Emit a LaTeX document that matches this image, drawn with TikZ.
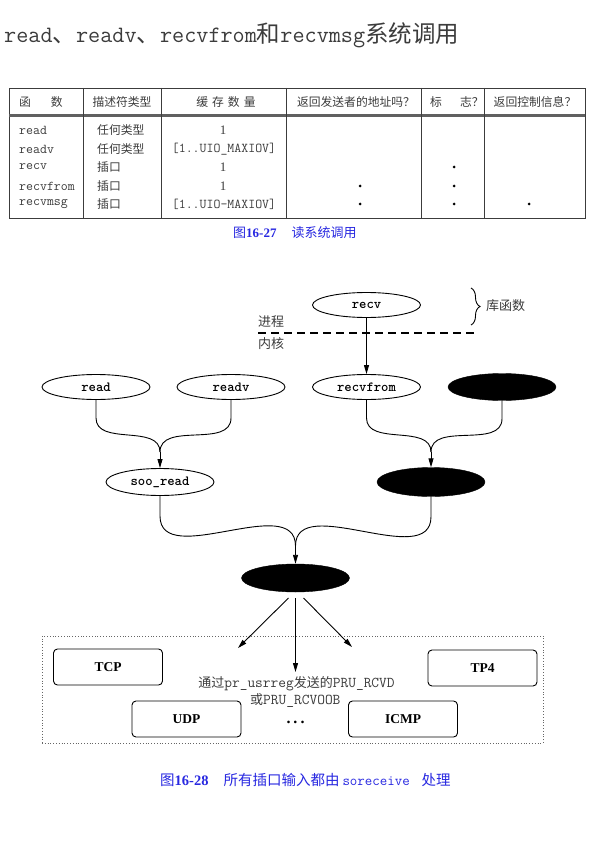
\documentclass[tikz,border=0pt]{standalone}
\usepackage{fontspec}
\setmainfont{Liberation Serif}
\newfontfamily\cjk{Noto Sans CJK SC}
\usetikzlibrary{arrows.meta,decorations.pathreplacing,shapes.geometric}
\definecolor{capblue}{RGB}{40,40,225}
\definecolor{tgray}{RGB}{60,60,60}
\newcommand{\fs}[1]{\fontsize{#1}{#1}\selectfont}
\begin{document}
\begin{tikzpicture}[x=1pt,y=-1pt,
  ell/.style={ellipse,draw,line width=0.9pt,minimum width=108pt,minimum height=25pt,inner sep=0pt,font=\ttfamily\bfseries\fs{14}},
  blk/.style={ellipse,draw,fill=black,minimum width=108pt,minimum height=28pt,inner sep=0pt},
  proto/.style={draw,rounded corners=4pt,line width=0.9pt,minimum width=109pt,minimum height=36pt,inner sep=0pt,font=\bfseries\fs{13.5}},
  arr/.style={-{Triangle[length=9pt,width=5pt]},line width=0.9pt},
  con/.style={line width=0.9pt},
  tline/.style={line width=0.8pt,tgray},
  hd/.style={inner sep=0pt,font=\cjk\fs{11.8},text=tgray},
  fn/.style={anchor=west,inner sep=0pt,font=\ttfamily\fs{13.5},text=tgray},
  ty/.style={anchor=west,inner sep=0pt,font=\cjk\fs{11.8},text=tgray},
  cnt/.style={inner sep=0pt,text=tgray},
  dotm/.style={circle,fill=black,inner sep=0pt,minimum size=3pt},
  lab/.style={anchor=west,inner sep=0pt,font=\cjk\fs{13},text=tgray},
  captxt/.style={anchor=west,inner sep=0pt,text=capblue}
]
\useasboundingbox (0,0) rectangle (595,842);
\fill[white] (0,0) rectangle (595,842);

% title
\node[anchor=west,inner sep=0pt,font=\fs{23.5},text=tgray] (title) at (4,35)
  {\ttfamily read{\cjk 、}readv{\cjk 、}recvfrom{\cjk 和}recvmsg{\cjk 系统调用}};

% table frame
\draw[tline] (9,88) rectangle (585,218);
\draw[line width=3pt,gray!75!black] (9,115.5) -- (585,115.5);
\foreach \cx in {83,161,286,421,484}
  \draw[tline] (\cx,88) -- (\cx,218);

% header
\node[hd,anchor=west] (h1) at (19,102) {函\hspace{20pt}数};
\node[hd] (h2) at (122,102) {描述符类型};
\node[hd] (h3) at (226,102) {缓\hspace{4pt}存\hspace{4pt}数\hspace{4pt}量};
\node[hd] (h4) at (356,102) {返回发送者的地址吗？};
\node[hd,anchor=west] (h5) at (430,102) {标\hspace{18pt}志？};
\node[hd] (h6) at (535,102) {返回控制信息？};

% rows
\node[fn] (f1) at (19,130) {read};
\node[fn] (f2) at (19,149) {readv};
\node[fn] (f3) at (19,167) {recv};
\node[fn] (f4) at (19,186) {recvfrom};
\node[fn] (f5) at (19,204) {recvmsg};
\node[ty] (t1) at (97,130) {任何类型};
\node[ty] (t2) at (97,149) {任何类型};
\node[ty] (t3) at (97,167) {插口};
\node[ty] (t4) at (97,186) {插口};
\node[ty] (t5) at (97,204) {插口};
\node[cnt,font=\fs{13}] (c1) at (223,130) {1};
\node[cnt,font=\ttfamily\fs{13.5}] (c2) at (224,149) {[1..UIO\_MAXIOV]};
\node[cnt,font=\fs{13}] (c3) at (223,167) {1};
\node[cnt,font=\fs{13}] (c4) at (223,186) {1};
\node[cnt,font=\ttfamily\fs{13.5}] (c5) at (224,204) {[1..UIO-MAXIOV]};
\node[dotm] (d1) at (360,186) {};
\node[dotm] (d2) at (360,204) {};
\node[dotm] (d3) at (454,167) {};
\node[dotm] (d4) at (454,186) {};
\node[dotm] (d5) at (454,204) {};
\node[dotm] (d6) at (529,204) {};

% caption 1
\node[captxt] (cap1) at (233,233) {{\cjk\fs{13}图}{\bfseries\fs{13}16-27}\hspace{15pt}{\cjk\fs{13}读系统调用}};

% diagram: top
\node[ell] (recv) at (366.5,305) {recv};
\coordinate (bt) at (471,288);
\coordinate (bb) at (471,325);
\draw[decorate,decoration={brace,amplitude=9pt},line width=0.9pt] (bt) -- (bb);
\node[lab] (lib) at (486,306) {库函数};
\coordinate (dl) at (258,333);
\coordinate (dr) at (476,333);
\draw[dash pattern=on 8pt off 5pt,line width=1.1pt] (dl) -- (dr);
\node[lab] (proc) at (258,322) {进程};
\node[lab] (kern) at (258,344) {内核};

% ellipses row
\node[ell] (read) at (96,387) {read};
\node[ell] (readv) at (231,387) {readv};
\node[ell] (recvfrom) at (366.5,387) {recvfrom};
\node[blk,minimum height=27pt] (b1) at (502,387) {};
\draw[arr] (recv.south) -- (recvfrom.north);

\node[ell,minimum height=27pt] (sooread) at (160,482) {soo\_read};
\node[blk,minimum height=29pt] (b2) at (431,482) {};

\coordinate (m1) at (160,452);
\coordinate (m2) at (431,452);
\draw[con] (read.south) -- ++(0,18) to[out=-90,in=90] (m1);
\draw[con] (readv.south) -- ++(0,18) to[out=-90,in=90] (m1);
\draw[arr] (m1) -- (sooread.north);
\draw[con] (recvfrom.south) -- ++(0,18) to[out=-90,in=90] (m2);
\draw[con] (b1.south) -- ++(0,18) to[out=-90,in=90] (m2);
\draw[arr] (m2) -- (b2.north);

\node[blk] (b3) at (295.5,578) {};
\coordinate (m3) at (295.5,546);
\draw[con] (sooread.south) -- ++(0,20) to[out=-90,in=90] (m3);
\draw[con] (b2.south) -- ++(0,20) to[out=-90,in=90] (m3);
\draw[arr] (m3) -- (b3.north);

% bottom area
\node[draw,dotted,line width=0.8pt,gray!80!black,minimum width=501pt,minimum height=107pt,inner sep=0pt] (area) at (292.5,689.5) {};
\coordinate (la) at (238,648);
\coordinate (ma) at (295.5,672);
\coordinate (ra) at (352,647);
\draw[arr] (b3) ++(-7,20) -- (la);
\draw[arr] (b3.south) ++(0,6) -- (ma);
\draw[arr] (b3) ++(8,20) -- (ra);

\node[proto] (tcp) at (108,667) {TCP};
\node[proto] (tp4) at (482.5,668) {TP4};
\node[proto] (udp) at (186.5,719) {UDP};
\node[proto] (icmp) at (403,719) {ICMP};

\node[inner sep=0pt,text=tgray] (msg1) at (296.5,684)
  {{\cjk\fs{13}通过}{\ttfamily\fs{15}pr\_usrreg}{\cjk\fs{13}发送的}{\ttfamily\fs{15}PRU\_RCVD}};
\node[anchor=west,inner sep=0pt,text=tgray] (msg2) at (250,701)
  {{\cjk\fs{13}或}{\ttfamily\fs{15}PRU\_RCVOOB}};
\node[inner sep=0pt,font=\bfseries\fs{16}] (dots) at (295.5,722) {.\hspace{3pt}.\hspace{3pt}.};

% caption 2
\node[captxt] (cap2) at (160,780) {{\cjk\fs{14.5}图}{\bfseries\fs{14.5}16-28}\hspace{15pt}{\cjk\fs{14.5}所有插口输入都由}\hspace{3pt}{\ttfamily\fs{14.5}soreceive}\hspace{12pt}{\cjk\fs{14.5}处理}};
\end{tikzpicture}
\end{document}
